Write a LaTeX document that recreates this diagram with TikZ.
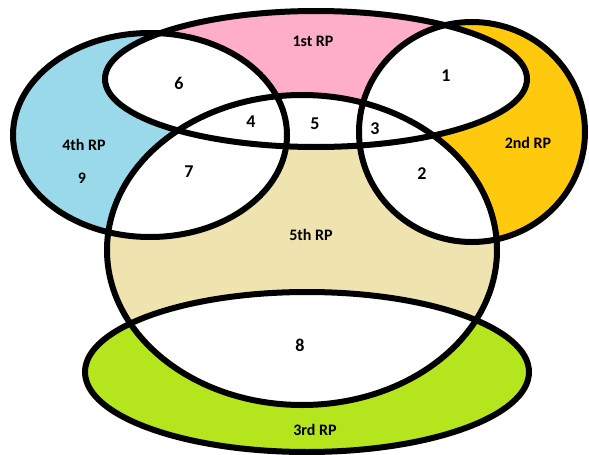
\documentclass[tikz,border=0pt]{standalone}
\usepackage{fontspec}
\setmainfont{Carlito}

\definecolor{rprose}{RGB}{255,174,201}
\definecolor{rpgold}{RGB}{255,201,14}
\definecolor{rplime}{RGB}{181,230,29}
\definecolor{rpturq}{RGB}{153,217,234}
\definecolor{rptan}{RGB}{239,228,176}

% the five sets, in pt with y pointing down
\newcommand{\rpone}{(316,79) ellipse [x radius=211, y radius=68]}
\newcommand{\rptwo}{(472,132) ellipse [x radius=113, y radius=110]}
\newcommand{\rpthree}{(307,372) ellipse [x radius=222, y radius=80]}
\newcommand{\rpfour}{(150,135) ellipse [x radius=137, y radius=102]}
\newcommand{\rpfive}{(302,250) ellipse [x radius=195, y radius=155]}

\tikzset{
  rpline/.style={draw=black, line width=6pt},
  rpname/.style={font=\fontsize{16}{18}\selectfont\bfseries},
  rpnum/.style={font=\fontsize{18}{20}\selectfont\bfseries}
}

\begin{document}
\begin{tikzpicture}[x=1pt, y=-1pt]
  \useasboundingbox (0,0) rectangle (589,455);

  % ── Sets ──────────────────────────────────────────────────────────
  \fill[rpturq] \rpfour;
  \fill[rprose] \rpone;
  \fill[rpgold] \rptwo;
  \fill[rplime] \rpthree;
  \fill[rptan]  \rpfive;

  % overlaps are left white
  \foreach \p/\q in {\rpone/\rptwo, \rpone/\rpfour, \rpone/\rpfive,
                     \rptwo/\rpfive, \rpfour/\rpfive, \rpfive/\rpthree}
    { \begin{scope} \clip \p; \fill[white] \q; \end{scope} }

  \foreach \s in {\rpone, \rptwo, \rpthree, \rpfour, \rpfive}
    { \draw[rpline] \s; }

  % ── Labels ────────────────────────────────────────────────────────
  \foreach \nm/\pos/\txt in {first/{313,41}/1st RP, second/{528,143}/2nd RP,
                             third/{315,430}/3rd RP, fourth/{84,145}/4th RP,
                             fifth/{311,235}/5th RP, nine/{82,178}/9}
    { \node[rpname] (\nm) at (\pos) {\txt}; }

  \foreach \nm/\pos/\txt in {one/{446,76}/1, two/{422,174}/2, three/{375,129}/3,
                             four/{251,122}/4, five/{315,124}/5, six/{179,83}/6,
                             seven/{189,172}/7, eight/{300,345}/8}
    { \node[rpnum] (\nm) at (\pos) {\txt}; }
\end{tikzpicture}
\end{document}
